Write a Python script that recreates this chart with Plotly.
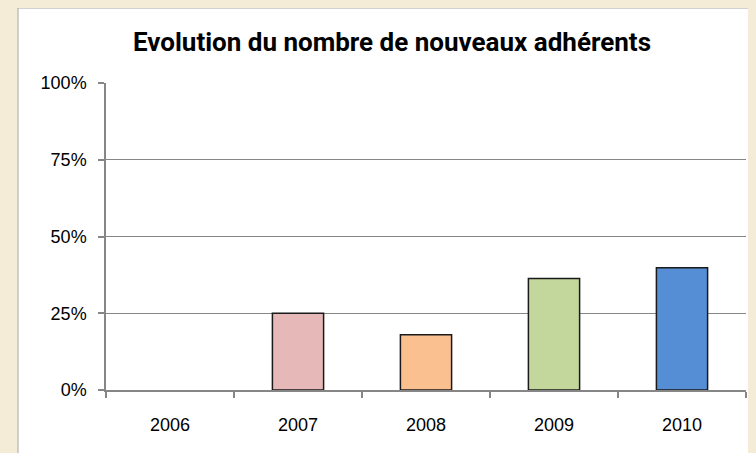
import plotly.graph_objects as go

years = ["2006", "2007", "2008", "2009", "2010"]
values = [0, 25, 18, 36.3, 39.8]
colors = ["#E6B9B8", "#E6B9B8", "#FAC090", "#C3D69B", "#558ED5"]
y_ticks = [0, 25, 50, 75, 100]
y_tick_labels = ["0%", "25%", "50%", "75%", "100%"]
title_text = "Evolution du nombre de nouveaux adhérents"

BEIGE = "#F4ECD6"
OFF = 8  # page body offset
W, H = 756, 453
L, T = 106 - OFF, 83 - OFF
R = W - (746 - OFF)
B = H - (390 - OFF)
pw, ph = W - L - R, H - T - B

def px_x(p):
    return (p - OFF - L) / pw

def px_y(p):
    return (H - B - (p - OFF)) / ph

outline_widths = [0 if v == 0 else 1.5 for v in values]

fig = go.Figure()
fig.add_trace(go.Bar(
    x=years, y=values,
    marker=dict(color=colors, line=dict(color="#1a1a1a", width=outline_widths)),
    width=0.4,
))

fig.update_layout(
    width=W, height=H,
    margin=dict(l=L, r=R, t=T, b=B, autoexpand=False),
    paper_bgcolor=BEIGE,
    plot_bgcolor="rgba(0,0,0,0)",
    showlegend=False,
    font=dict(family="Liberation Sans, Arial, sans-serif", size=18, color="#000000"),
    title=dict(
        text="<b>" + title_text + "</b>",
        x=(392 - OFF) / W, xref="container", xanchor="center",
        y=1 - (42 - OFF) / H, yref="container", yanchor="middle",
        font=dict(family="Roboto, Liberation Sans, sans-serif", size=26, color="#000000"),
    ),
    shapes=[
        dict(type="rect", xref="paper", yref="paper", layer="below",
             x0=px_x(18), x1=px_x(W + 40), y0=px_y(H + 40), y1=px_y(8),
             fillcolor="#FFFFFF", line=dict(color="#A6A6A6", width=1)),
    ],
)

fig.update_xaxes(
    type="category", automargin=False,
    showline=True, linecolor="#868686", linewidth=1.5,
    ticks="outside", tickson="boundaries", ticklen=6, tickcolor="#868686", tickwidth=1.5,
    showgrid=False,
    ticklabelstandoff=18,
    tickfont=dict(size=18),
)
fig.update_yaxes(
    range=[0, 100], automargin=False,
    tickmode="array", tickvals=y_ticks, ticktext=y_tick_labels,
    showline=True, linecolor="#868686", linewidth=1.5,
    ticks="outside", ticklen=6, tickcolor="#868686", tickwidth=1.5,
    showgrid=True, gridcolor="#868686", gridwidth=1,
    zeroline=False,
    ticklabelstandoff=8,
    tickfont=dict(size=18),
)

fig.write_html("out.html", post_script="document.body.style.background='" + BEIGE + "';")
